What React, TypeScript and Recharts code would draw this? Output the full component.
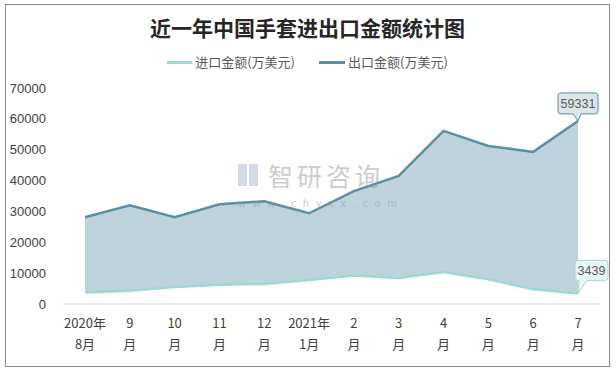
import React from 'react';
import { AreaChart, Area, XAxis, YAxis } from 'recharts';

const categories = ['2020年8月', '9月', '10月', '11月', '12月', '2021年1月', '2月', '3月', '4月', '5月', '6月', '7月'];
const importValues = [3700, 4300, 5500, 6200, 6500, 7800, 9200, 8400, 10400, 8000, 4800, 3439];
const exportValues = [28100, 32000, 28100, 32300, 33300, 29400, 36600, 41500, 56100, 51200, 49300, 59331];
const yTicks = [0, 10000, 20000, 30000, 40000, 50000, 60000, 70000];

const IMPORT_COLOR = '#9dd8d5';
const EXPORT_COLOR = '#5a8fa6';

const data = categories.map((c, i) => ({ month: c, imp: importValues[i], exp: exportValues[i] }));

function splitLabel(label: string): [string, string] {
  const yearIdx = label.indexOf('年');
  if (yearIdx >= 0) return [label.slice(0, yearIdx + 1), label.slice(yearIdx + 1)];
  return [label.replace('月', ''), '月'];
}

function MonthTick(props: any) {
  const { x, y, payload } = props;
  const [top, bottom] = splitLabel(payload.value);
  return (
    <g>
      <text x={x} y={y + 23.5} textAnchor="middle" fontSize={13} fill="#404040" fontFamily="'Noto Sans CJK SC', sans-serif">{top}</text>
      <text x={x} y={y + 45} textAnchor="middle" fontSize={13} fill="#404040" fontFamily="'Noto Sans CJK SC', sans-serif">{bottom}</text>
    </g>
  );
}

function calloutPath(l: number, t: number, r: number, b: number, tl: number, tr: number, tipX: number, tipY: number) {
  const k = 3;
  return `M${l + k},${t} H${r - k} Q${r},${t} ${r},${t + k} V${b - k} Q${r},${b} ${r - k},${b} H${tr} L${tipX},${tipY} L${tl},${b} H${l + k} Q${l},${b} ${l},${b - k} V${t + k} Q${l},${t} ${l + k},${t} Z`;
}

function makeCallout(stroke: string, fill: string, kind: 'export' | 'import') {
  return (props: any) => {
    const { x, y, value, index } = props;
    if (index !== categories.length - 1) return null;
    let l, t, r, b, tl, tr;
    if (kind === 'export') {
      l = x - 20; r = x + 20; t = y - 28; b = y - 7; tl = x - 5; tr = x + 3;
    } else {
      l = x - 3; r = x + 30; t = y - 33; b = y - 13; tl = x + 1; tr = x + 9;
    }
    return (
      <g>
        <path d={calloutPath(l, t, r, b, tl, tr, x, y)} fill={fill} stroke={stroke} strokeWidth={1} />
        <text x={(l + r) / 2} y={(t + b) / 2 + 4.5} textAnchor="middle" fontSize={12.5} fill="#595959" fontFamily="'Liberation Sans', Arial, sans-serif">{value}</text>
      </g>
    );
  };
}

export default function App() {
  return (
    <div style={{ position: 'absolute', left: 5, top: 4, width: 605, height: 363, border: '1px solid #8c8c8c', boxSizing: 'border-box', background: '#fff' }}>
      <div style={{ position: 'absolute', top: 8, left: 0, width: '100%', textAlign: 'center', fontSize: 21, fontWeight: 'bold', color: '#262626', fontFamily: "'Noto Sans CJK SC', sans-serif", lineHeight: '28px' }}>
        近一年中国手套进出口金额统计图
      </div>
      <div style={{ position: 'absolute', top: 48, left: 0, width: '100%', display: 'flex', justifyContent: 'center', alignItems: 'center', fontSize: 13, color: '#595959', fontFamily: "'Noto Sans CJK SC', sans-serif", lineHeight: '18px' }}>
        <span style={{ display: 'inline-block', width: 25, height: 3, background: IMPORT_COLOR, marginRight: 3 }} />
        <span>进口金额(万美元)</span>
        <span style={{ display: 'inline-block', width: 26, height: 3, background: EXPORT_COLOR, marginLeft: 24, marginRight: 3 }} />
        <span>出口金额(万美元)</span>
      </div>
      <div style={{ position: 'absolute', left: 0, top: 0 }}>
        <AreaChart width={603} height={361} data={data} margin={{ top: 83, right: 9, bottom: 0, left: 0 }}>
          <YAxis
            type="number"
            domain={[0, 70000]}
            ticks={yTicks}
            width={57}
            axisLine={false}
            tickLine={false}
            tickSize={0}
            tickMargin={17}
            tick={{ fontSize: 13, fill: '#404040', fontFamily: "'Liberation Sans', Arial, sans-serif" }}
          />
          <Area
            type="linear"
            dataKey="exp"
            stroke={EXPORT_COLOR}
            strokeWidth={2.5}
            fill="#bfd3dc"
            fillOpacity={1}
            dot={false}
            activeDot={false}
            isAnimationActive={false}
            label={makeCallout(EXPORT_COLOR, '#dbe6eb', 'export')}
          />
          <Area
            type="linear"
            dataKey="imp"
            stroke={IMPORT_COLOR}
            strokeWidth={2.5}
            fill="#ffffff"
            fillOpacity={1}
            dot={false}
            activeDot={false}
            isAnimationActive={false}
            label={makeCallout(IMPORT_COLOR, '#eaf6f6', 'import')}
          />
          <XAxis
            dataKey="month"
            height={62}
            padding={{ left: 22, right: 22 }}
            axisLine={{ stroke: '#d9d9d9' }}
            tickLine={false}
            tickSize={0}
            tickMargin={0}
            interval={0}
            tick={<MonthTick />}
          />
        </AreaChart>
      </div>
      <div style={{ position: 'absolute', left: 232, top: 156, width: 150, height: 28, pointerEvents: 'none', opacity: 0.5, display: 'flex', alignItems: 'center' }}>
        <div style={{ width: 20, height: 22, position: 'relative', marginRight: 10 }}>
          <div style={{ position: 'absolute', left: 0, top: 0, width: 9, height: 22, background: '#a9b9d6' }} />
          <div style={{ position: 'absolute', left: 11, top: 0, width: 9, height: 22, background: '#a9b9d6' }} />
        </div>
        <span style={{ fontSize: 25, color: '#9a9a9a', letterSpacing: 4, fontFamily: "'Noto Sans CJK SC', sans-serif", lineHeight: '28px' }}>智研咨询</span>
      </div>
      <div style={{ position: 'absolute', left: 232, top: 193, height: 12, pointerEvents: 'none', opacity: 0.5, fontSize: 10, lineHeight: '12px', color: '#9a9a9a', letterSpacing: 6.5, fontFamily: "'DejaVu Sans', sans-serif" }}>
        www.chyxx.com
      </div>
    </div>
  );
}
